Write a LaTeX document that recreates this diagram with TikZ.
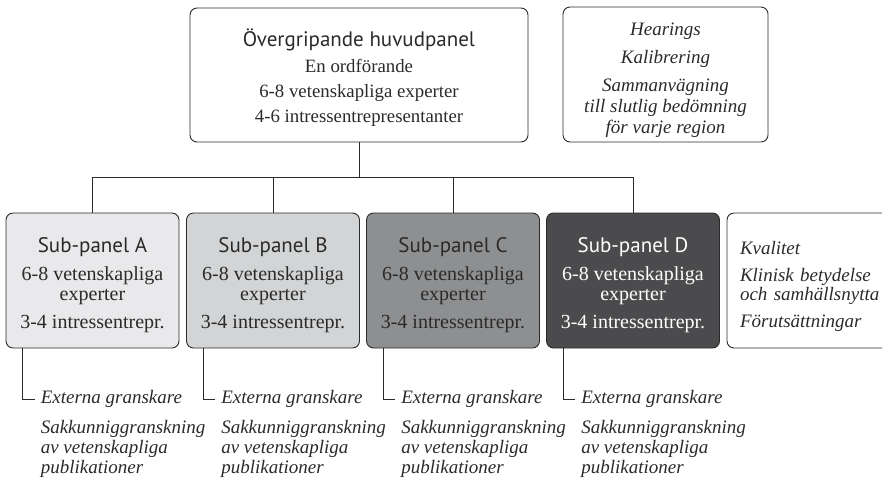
\documentclass[tikz,border=0pt]{standalone}
\usepackage{fontspec}
\setmainfont{Liberation Serif}
\newfontfamily\headfont{PT Sans}
\usetikzlibrary{positioning}
\definecolor{fillA}{HTML}{E9E9EB}
\definecolor{fillB}{HTML}{D3D4D6}
\definecolor{fillC}{HTML}{8E8F91}
\definecolor{fillD}{HTML}{4B4B4D}
\definecolor{ink}{HTML}{2A2A2A}

\begin{document}
\begin{tikzpicture}[x=1pt, y=-1pt,
  box/.style={rectangle, rounded corners=7pt, draw=ink, line width=0.9pt,
              align=center, text=ink},
  subbox/.style={box, minimum width=173pt, minimum height=135pt,
                 font=\fontsize{20}{20}\selectfont},
  note/.style={align=left, text=ink, font=\fontsize{19}{20}\selectfont\itshape,
               inner xsep=6pt, inner ysep=0pt},
  link/.style={draw=ink, line width=0.9pt}
]
\useasboundingbox (0,0) rectangle (882,483);
\clip (0,0) rectangle (882,483);

\node[box, minimum width=338pt, minimum height=134pt, font=\fontsize{18.8}{19}\selectfont] (main) at (359,75)
  {{\headfont\fontsize{21}{25}\selectfont\rule{0pt}{22pt}Övergripande huvudpanel}\\[7pt]
   En ordförande\\[6pt] 6-8 vetenskapliga experter\\[6pt] 4-6 intressentrepresentanter};
\node[box, minimum width=205pt, minimum height=135pt, font=\fontsize{19}{21}\selectfont\itshape] (hear) at (665.5,74.5)
  {\rule{0pt}{24pt}Hearings\\[7pt] Kalibrering\\[7pt] Sammanvägning\\ till slutlig bedömning\\ för varje region};

\node[subbox, fill=fillA] (subA) at (92.5,280.5)
  {{\headfont\fontsize{21}{25}\selectfont\rule{0pt}{25pt}Sub-panel A}\\[8pt] 6-8 vetenskapliga\\ experter\\[8pt] 3-4 intressentrepr.};
\node[subbox, fill=fillB] (subB) at (273,280.5)
  {{\headfont\fontsize{21}{25}\selectfont\rule{0pt}{25pt}Sub-panel B}\\[8pt] 6-8 vetenskapliga\\ experter\\[8pt] 3-4 intressentrepr.};
\node[subbox, fill=fillC] (subC) at (453,280.5)
  {{\headfont\fontsize{21}{25}\selectfont\rule{0pt}{25pt}Sub-panel C}\\[8pt] 6-8 vetenskapliga\\ experter\\[8pt] 3-4 intressentrepr.};
\node[subbox, fill=fillD, text=white] (subD) at (633,280.5)
  {{\headfont\fontsize{21}{25}\selectfont\rule{0pt}{25pt}Sub-panel D}\\[8pt] 6-8 vetenskapliga\\ experter\\[8pt] 3-4 intressentrepr.};
\node[box, align=left, text width=150pt, inner xsep=13pt, minimum height=135pt,
      font=\fontsize{19}{19}\selectfont\itshape] (crit) at (815,280.5)
  {\rule{0pt}{25pt}Kvalitet\\[8pt] Klinisk betydelse\\ och samhällsnytta\\[8pt] Förutsättningar};

\coordinate (bus) at (0,177);
\coordinate (rail) at (0,399);
\draw[link] (main.south) -- (main.south |- bus);
\draw[link] (subA.north |- bus) -- (subD.north |- bus);
\foreach \p in {A,B,C,D} {
  \draw[link] (sub\p.north) -- (sub\p.north |- bus);
  \node[note, anchor=west] (ext\p) at ([xshift=29pt]sub\p.south west |- rail) {Externa granskare};
  \node[note, below=12pt of ext\p.south west, anchor=north west] (rev\p)
    {Sakkunniggranskning\\ av vetenskapliga\\ publikationer};
  \draw[link] ([xshift=17pt]sub\p.south west) |- (ext\p.west);
}
\end{tikzpicture}
\end{document}
